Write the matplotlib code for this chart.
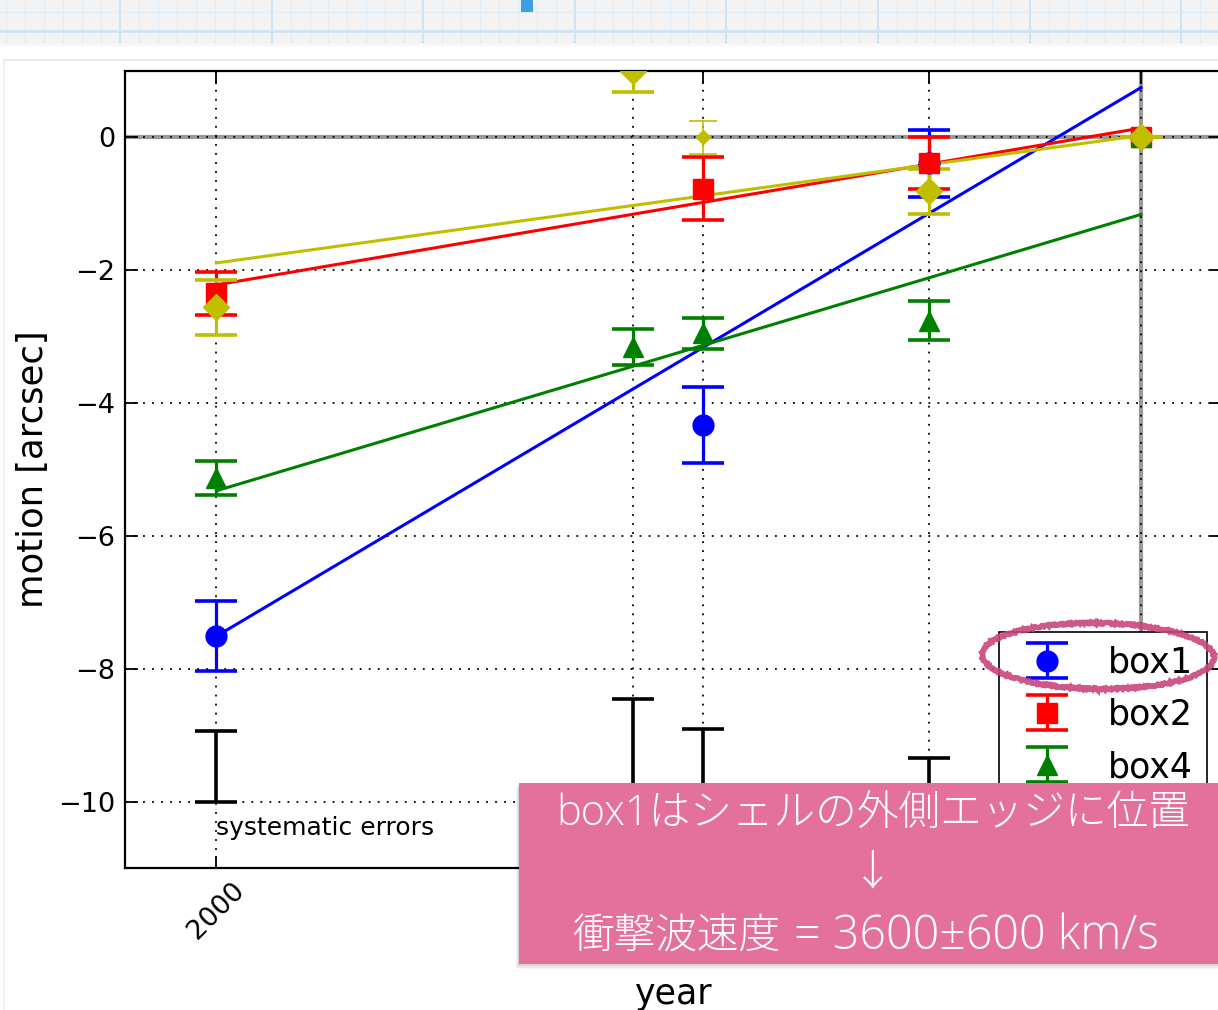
import numpy as np
import matplotlib
matplotlib.use("Agg")
import matplotlib.pyplot as plt
from matplotlib.patches import Rectangle, Ellipse
from matplotlib.lines import Line2D

# observation epochs (decimal year); the last one is the reference epoch
epochs = [2000.0, 2006.84, 2007.99, 2011.70, 2015.17]
epoch_labels = ["2000", "2006.8", "2008.0", "2011.7", "2015.2"]

box1_epochs = [2000.0, 2007.99, 2011.70, 2015.17]
box1_motion = [-7.51, -4.33, -0.39, 0.0]
box1_err = [0.53, 0.57, 0.50, 0.0]

box2_epochs = [2000.0, 2007.99, 2011.70, 2015.17]
box2_motion = [-2.35, -0.77, -0.38, 0.0]
box2_err = [0.32, 0.47, 0.39, 0.0]

box4_epochs = [2000.0, 2006.84, 2007.99, 2011.70, 2015.17]
box4_motion = [-5.13, -3.15, -2.95, -2.76, 0.0]
box4_err = [0.26, 0.27, 0.23, 0.29, 0.0]

box5_epochs = [2000.0, 2006.84, 2011.70, 2015.17]
box5_motion = [-2.56, 1.00, -0.81, 0.0]
box5_err = [0.41, 0.31, 0.34, 0.0]

extra_epochs = [2007.99]
extra_motion = [0.0]
extra_err = [0.25]

# linear fits, evaluated at the first and the reference epoch
fit_span = [2000.0, 2015.17]
fit_box1 = [-7.51, 0.75]
fit_box2 = [-2.22, 0.14]
fit_box4 = [-5.32, -1.16]
fit_box5 = [-1.89, 0.03]

# systematic errors, drawn upward from the -10 baseline
sys_epochs = [2000.0, 2006.84, 2007.99, 2011.70]
sys_err = [1.06, 1.55, 1.10, 0.65]

W, H = 1218, 1010
fig = plt.figure(figsize=(W / 100, H / 100), dpi=100)
fig.patch.set_facecolor("white")


def fx(x):
    return x / W


def fy(y):
    return 1 - y / H


# ---- slide header: graph-paper strip ----
band_h = 42
fig.patches.append(Rectangle((0, fy(band_h)), 1, band_h / H, transform=fig.transFigure,
                             facecolor="#f3f3f3", edgecolor="none", zorder=0))
step = 151.6 / 8
x0 = 120 - 151.6
k = 0
while x0 + k * step < W:
    xx = x0 + k * step
    major = (k % 8 == 0)
    fig.add_artist(Line2D([fx(xx), fx(xx)], [fy(0), fy(band_h)], transform=fig.transFigure,
                          color="#cde4f2" if major else "#e0edf6", lw=1.5 if major else 0.8, zorder=1))
    k += 1
for yy, major in [(12, False), (31, True)]:
    fig.add_artist(Line2D([0, 1], [fy(yy), fy(yy)], transform=fig.transFigure,
                          color="#cde4f2" if major else "#e0edf6", lw=2.0 if major else 0.8, zorder=1))
fig.patches.append(Rectangle((fx(521), fy(12)), 12 / W, 12 / H, transform=fig.transFigure,
                             facecolor="#3d9fe0", edgecolor="none", zorder=2))
for i in range(5):
    fig.patches.append(Rectangle((0, fy(band_h + i + 1)), 1, 1 / H, transform=fig.transFigure,
                                 facecolor="black", alpha=0.05 - i * 0.009, edgecolor="none", zorder=1))

# frame of the embedded plot
fig.add_artist(Line2D([fx(4), 1], [fy(60), fy(60)], transform=fig.transFigure, color="#e6e6e6", lw=1.2))
fig.add_artist(Line2D([fx(4), fx(4)], [fy(60), 0], transform=fig.transFigure, color="#ececec", lw=1.2))

# ---- main axes ----
ax_left, ax_right, ax_top, ax_bottom = 125, 1222, 71, 868
ax = fig.add_axes([fx(ax_left), fy(ax_bottom), (ax_right - ax_left) / W, (ax_bottom - ax_top) / H])
ax.set_xlim(1998.5, 2016.5)
ax.set_ylim(-11, 1)

ax.axhline(0, color="#9a9a9a", lw=3, zorder=1)
ax.axvline(epochs[-1], color="#9a9a9a", lw=3, zorder=1)
ax.grid(True, color="black", linestyle=(0, (1, 4)), lw=1.3, zorder=1.5)
ax.set_axisbelow(False)

eb = dict(elinewidth=2.3, capsize=15, capthick=2.6, markersize=15, zorder=3)
ax.errorbar(box1_epochs, box1_motion, yerr=box1_err, fmt="o", color="blue", mec="blue", label="box1", **eb)
ax.plot(fit_span, fit_box1, color="blue", lw=2.2, zorder=3)
ax.errorbar(box2_epochs, box2_motion, yerr=box2_err, fmt="s", color="red", mec="red", label="box2", **eb)
ax.plot(fit_span, fit_box2, color="red", lw=2.2, zorder=3)
ax.errorbar(box4_epochs, box4_motion, yerr=box4_err, fmt="^", color="green", mec="green", label="box4", **eb)
ax.plot(fit_span, fit_box4, color="green", lw=2.2, zorder=3)
ax.errorbar(box5_epochs, box5_motion, yerr=box5_err, fmt="D", color="#bfbf00", mec="#bfbf00", label="box5",
            elinewidth=2.3, capsize=15, capthick=2.6, markersize=13, zorder=3)
ax.plot(fit_span, fit_box5, color="#bfbf00", lw=2.2, zorder=3)
ax.errorbar(extra_epochs, extra_motion, yerr=extra_err, fmt="D", color="#bfbf00", mec="#bfbf00",
            elinewidth=1.2, capsize=10, capthick=1.2, markersize=7, zorder=3)

ax.errorbar(sys_epochs, [-10] * len(sys_epochs), yerr=[[0] * len(sys_err), sys_err], fmt="none",
            ecolor="black", elinewidth=2.6, capsize=15, capthick=2.6, zorder=3)
ax.text(2000.0, -10.4, "systematic errors", fontsize=18, ha="left", va="center", color="black")

ax.set_xticks(epochs)
ax.set_xticklabels(epoch_labels, rotation=45, ha="center", va="top")
ax.set_yticks([-10, -8, -6, -4, -2, 0])
ax.tick_params(direction="in", top=True, right=True, length=9, width=1.3, labelsize=19.5, pad=7)
for s in ax.spines.values():
    s.set_linewidth(1.6)
ax.set_xlabel("year", fontsize=25, labelpad=10)
ax.set_ylabel("motion [arcsec]", fontsize=25.5, labelpad=6)

leg = ax.legend(loc="upper right", bbox_to_anchor=(fx(1207), fy(632)), bbox_transform=fig.transFigure,
                numpoints=1, fontsize=25, handlelength=2.0, handletextpad=0.75,
                borderpad=0.4, labelspacing=0.52, fancybox=False, framealpha=1, borderaxespad=0)
leg.get_frame().set_edgecolor("black")
leg.get_frame().set_linewidth(1.2)

# ---- annotations ----
ell = Ellipse((fx(1098), fy(656)), 232 / W, 66 / H, angle=-1, transform=fig.transFigure,
              fill=False, edgecolor="#c8467c", lw=4, alpha=0.9, zorder=10)
ell.set_sketch_params(scale=0.8, length=3, randomness=4)
fig.patches.append(ell)

bx0, by0, bx1, by1 = 519, 783, 1240, 964
for i in range(1, 6):
    fig.patches.append(Rectangle((fx(bx0 - i * 0.6), fy(by1 + i)), (bx1 - bx0) / W, (by1 - by0) / H,
                                 transform=fig.transFigure, facecolor="black", alpha=0.035,
                                 edgecolor="none", zorder=11))
fig.patches.append(Rectangle((fx(bx0), fy(by1)), (bx1 - bx0) / W, (by1 - by0) / H, transform=fig.transFigure,
                             facecolor="#e4719c", edgecolor="none", zorder=12))
jp = ["Open Sans", "Noto Sans CJK JP", "DejaVu Sans"]
fig.text(fx(873), fy(814), "box1はシェルの外側エッジに位置", family=jp, fontsize=30, fontweight="light",
         color="white", ha="center", va="center", zorder=13)
fig.text(fx(873), fy(873), "↓", family=jp, fontsize=30, fontweight="light",
         color="white", ha="center", va="center", zorder=13)
fig.text(fx(780), fy(937), "衝撃波速度", family=jp, fontsize=30, fontweight="light",
         color="white", ha="right", va="center", zorder=13)
fig.text(fx(782), fy(937), " = 3600±600 km/s", family=jp, fontsize=33.5, fontweight="light",
         color="white", ha="left", va="center", zorder=13)

fig.savefig("out.png", dpi=100, facecolor="white")
